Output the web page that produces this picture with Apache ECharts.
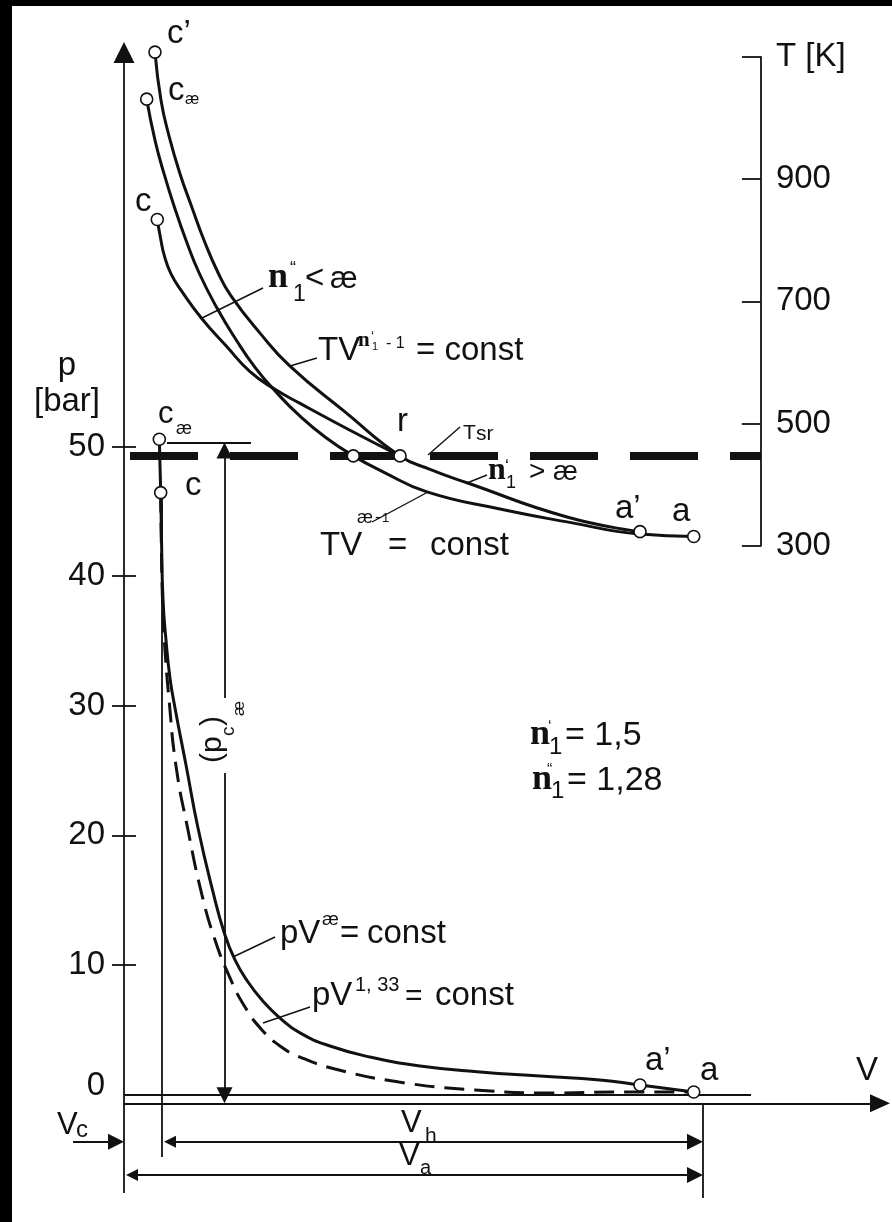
<!DOCTYPE html>
<html>
<head>
<meta charset="utf-8">
<title>p-V diagram</title>
<script src="https://cdn.jsdelivr.net/npm/echarts@6.0.0/dist/echarts.min.js"></script>
<style>
  html, body { margin: 0; padding: 0; background: #fff; }
  #main { width: 892px; height: 1222px; }
  .frame { position: absolute; background: #000; }
</style>
</head>
<body>
<div id="main"></div>
<div class="frame" style="left:0;top:0;width:892px;height:6px;"></div>
<div class="frame" style="left:0;top:0;width:12px;height:1222px;"></div>
<script>
// V in relative units (Va = 100), p in bar, T in K
var pTicks = [0, 10, 20, 30, 40, 50];
var tTicks = [300, 500, 700, 900, 1100];
var Vc = 6.56, Va = 100, Tsr = 447;
var vMax = 130.57, pMin = -0.68, pMax = 80.4;

// T-V curves
var tvN1 = [[5.35,1108],[6.39,1029],[7.77,971],[9.67,909],[11.69,855],[13.82,800],[16.29,746],[18.48,709],
            [23.49,648],[28.67,594],[38.17,519],[47.67,447],[52.85,425],[59.24,403],[76.51,347],[89.12,323]];
var tvK  = [[3.92,1031],[5.35,964],[6.91,909],[8.69,855],[10.71,800],[13.0,746],[16.06,689],[19.17,640],
            [22.63,592],[26.42,550],[30.4,512],[34.72,478],[39.6,447],[44.73,421],[52.33,388],[64.94,360],
            [76.51,339],[89.12,319],[98.4,315]];
var tvN2 = [[5.75,834],[6.3,804],[6.99,774],[8.12,745],[10.02,716],[13.42,672],[17.74,626],[21.76,585],
            [26.08,556],[30.4,533],[39.03,489],[47.67,447]];
var tvMarks = [[5.35,1108],[3.92,1031],[5.75,834],[39.6,447],[47.67,447],[89.12,323],[98.4,315]];

// p-V curves
var pvK = [[6.1,50.56],[6.34,46.44],[6.48,42.79],[6.74,38.16],[7.25,35.07],[7.94,32.14],[8.81,29.82],
           [10.71,25.42],[12.78,20.56],[15.37,15.63],[17.27,12.54],[19.17,10.38],[21.42,8.68],[23.83,7.29],
           [26.94,5.9],[30.4,4.75],[35.58,3.74],[42.49,2.89],[51.12,2.2],[61.49,1.74],[71.85,1.43],
           [82.21,1.12],[89.12,0.73],[98.4,0.19]];
var pv133 = [[6.34,46.44],[6.44,42.79],[6.65,38.16],[7.08,34.3],[7.77,30.52],[8.98,25.35],[11.05,20.41],
             [13.47,15.39],[15.72,11.92],[18.31,8.99],[20.9,6.75],[23.83,4.98],[26.94,3.74],[30.4,2.89],
             [36.44,1.97],[47.5,0.96],[60.62,0.35],[73.58,0.12],[86.7,0.19],[98.4,0.19]];
var pvMarks = [[6.1,50.56],[6.34,46.44],[89.12,0.73],[98.4,0.19]];

// dimension lines (V, p)
var dimPlain = [
  [[0, pMin], [0, -7.6]],
  [[Vc, 46.44], [Vc, -4.82]],
  [[Va, pMin], [Va, -7.98]],
  [[0, 0], [108.3, 0]],
  [[7.43, 50.3], [21.93, 50.3]]
];
var dimSingle = [
  [[17.36, 30.6], [17.36, 50.3]],
  [[17.36, 24.8], [17.36, pMin]],
  [[-8.8, -3.64], [0, -3.64]]
];
var dimDouble = [
  [[Vc, -3.64], [Va, -3.64]],
  [[0, -6.21], [Va, -6.21]]
];

var SANS = "'Liberation Sans', Arial, sans-serif";
var SERIF = "'Liberation Serif', 'Times New Roman', serif";
var INK = '#111';
var PX_V = 756 / vMax, PX_P = 1050.8 / (pMax - pMin);

function trim(a, b, px) {
  var dx = (b[0] - a[0]) * PX_V, dy = (b[1] - a[1]) * PX_P;
  var f = px / Math.sqrt(dx * dx + dy * dy);
  return [b[0] - (b[0] - a[0]) * f, b[1] - (b[1] - a[1]) * f];
}

function txt(x, base, s, size, opt) {
  opt = opt || {};
  var al = opt.align || 'left';
  return {
    type: 'text', x: x, y: base - 0.34 * size, z: 100, silent: true,
    style: {
      text: s, fill: INK, fontSize: size,
      fontFamily: opt.serif ? SERIF : SANS,
      fontWeight: opt.bold ? 'bold' : 'normal',
      align: al, verticalAlign: 'middle',
      textAlign: al, textVerticalAlign: 'middle'
    }
  };
}
// text rotated 90deg, reading upwards; x = em-middle column, y = start of the text
function rot(x, y, s, size) {
  return {
    type: 'text', x: x, y: y, rotation: Math.PI / 2, z: 100, silent: true,
    style: {
      text: s, fill: INK, fontSize: size, fontFamily: SANS,
      align: 'left', verticalAlign: 'middle', textAlign: 'left', textVerticalAlign: 'middle'
    }
  };
}
function lead(x1, y1, x2, y2) {
  return { type: 'line', z: 100, silent: true,
    shape: { x1: x1, y1: y1, x2: x2, y2: y2 },
    style: { stroke: INK, lineWidth: 1.4 } };
}

function curve(data, xi, yi, type) {
  return {
    type: 'line', xAxisIndex: xi, yAxisIndex: yi, data: data,
    symbol: 'none', showSymbol: false, smooth: 0.5,
    clip: false, silent: true, z: 3,
    lineStyle: { color: INK, width: 3, type: type }
  };
}
function marks(data, xi, yi) {
  return {
    type: 'scatter', xAxisIndex: xi, yAxisIndex: yi, data: data,
    symbol: 'circle', symbolSize: 12, clip: false, silent: true, z: 6,
    itemStyle: { color: '#fff', borderColor: INK, borderWidth: 1.6, opacity: 1 }
  };
}
function dims(list, symbol, nTrim) {
  return {
    type: 'lines', coordinateSystem: 'cartesian2d', xAxisIndex: 0, yAxisIndex: 0,
    clip: false, silent: true, z: 4, symbol: symbol, symbolSize: [12, 16],
    lineStyle: { color: INK, width: 1.8, opacity: 1, curveness: 0 },
    data: list.map(function (seg) {
      var a = seg[0], b = seg[1];
      if (nTrim >= 1) b = trim(seg[0], seg[1], 8);
      if (nTrim >= 2) a = trim(seg[1], seg[0], 8);
      return { coords: [a, b] };
    })
  };
}

var labelFont = { fontSize: 33, fontFamily: SANS, color: INK };

var labels = [
  txt(167, 45, 'c\u2019', 33),
  txt(168, 102, 'c', 33), txt(185, 105, '\u00e6', 16),
  txt(135, 213, 'c', 33),
  // n1'' < ae
  txt(268, 290, 'n', 36, { serif: 1, bold: 1 }), txt(290, 275, '\u201c', 18), txt(293, 302, '1', 23),
  txt(305, 290, '<', 33), txt(330, 290, '\u00e6', 31),
  lead(263, 288, 202, 318),
  // TV^(n1'-1) = const
  txt(318, 362, 'TV', 33), txt(358, 348, 'n', 21, { serif: 1, bold: 1 }), txt(371, 342, '\u2018', 14),
  txt(372, 351, '1', 11), txt(386, 349, '- 1', 16), txt(416, 362, '= const', 33),
  lead(317, 358, 290, 366),
  // T_sr and r
  txt(463, 440, 'T', 21), txt(476, 441, 'sr', 21),
  lead(460, 427, 428, 455),
  txt(397, 433, 'r', 33),
  // n1' > ae
  txt(488, 482, 'n', 32, { serif: 1, bold: 1 }), txt(505, 473, '\u2018', 18), txt(506, 489, '1', 18),
  txt(529, 482, '>', 28), txt(553, 482, '\u00e6', 28),
  lead(487, 475, 467, 483),
  txt(615, 520, 'a\u2019', 33), txt(672, 523, 'a', 33),
  // TV^(ae-1) = const
  txt(320, 557, 'TV', 33), txt(357, 524, '\u00e6', 18), txt(375, 523, '-', 17), txt(382, 523, '1', 13),
  txt(388, 557, '=', 33), txt(430, 557, 'const', 33),
  lead(372, 522, 428, 492),
  // axis captions
  txt(67, 377, 'p', 33, { align: 'center' }), txt(67, 413, '[bar]', 33, { align: 'center' }),
  txt(856, 1082, 'V', 33),
  // lower point labels
  txt(158, 425, 'c', 31), txt(176, 435, '\u00e6', 18),
  txt(185, 497, 'c', 33),
  txt(645, 1072, 'a\u2019', 33), txt(700, 1082, 'a', 33),
  // exponents
  txt(530, 747, 'n', 36, { serif: 1, bold: 1 }), txt(548, 733, '\u2018', 16), txt(549, 756, '1', 24),
  txt(565, 747, '= 1,5', 34),
  txt(532, 792, 'n', 36, { serif: 1, bold: 1 }), txt(547, 776, '\u201c', 16), txt(551, 800, '1', 24),
  txt(567, 792, '= 1,28', 34),
  // pV labels
  txt(280, 945, 'pV', 33), txt(322, 926, '\u00e6', 19), txt(340, 945, '=', 33), txt(367, 945, 'const', 33),
  lead(275, 937, 233, 957),
  txt(312, 1007, 'pV', 33), txt(355, 992, '1, 33', 20), txt(405, 1007, '=', 30), txt(435, 1007, 'const', 33),
  lead(310, 1007, 263, 1023),
  // volumes
  txt(57, 1136, 'V', 31), txt(76, 1139, 'c', 24),
  txt(401, 1134, 'V', 31), txt(425, 1143, 'h', 21),
  txt(399, 1167, 'V', 31), txt(420, 1175, 'a', 20),
  // (p_c)_ae along the pressure arrow
  rot(213, 763, '(p', 30), rot(229, 736, 'c', 19), rot(213, 726, ')', 30), rot(239, 716, '\u00e6', 17)
];

var chart = echarts.init(document.getElementById('main'), null, { renderer: 'canvas' });

var option = {
  backgroundColor: '#fff',
  animation: false,
  grid: [
    { left: 124, top: 52.5, width: 756, height: 1050.8, containLabel: false, outerBoundsMode: 'none' },
    { left: 124, top: 57, width: 636.9, height: 488.7, containLabel: false, outerBoundsMode: 'none' }
  ],
  xAxis: [
    {
      gridIndex: 0, type: 'value', min: 0, max: vMax,
      axisLine: { show: true, onZero: false, symbol: ['none', 'triangle'], symbolSize: [18, 20],
                  lineStyle: { color: INK, width: 1.8 } },
      axisTick: { show: false }, axisLabel: { show: false }, splitLine: { show: false }
    },
    { gridIndex: 1, type: 'value', min: 0, max: 110, show: false, splitLine: { show: false } }
  ],
  yAxis: [
    {
      gridIndex: 0, type: 'value', min: pMin, max: pMax, position: 'left',
      axisLine: { show: true, onZero: false, symbol: ['none', 'triangle'], symbolSize: [21, 21],
                  lineStyle: { color: INK, width: 1.8 } },
      axisTick: { show: true, length: 12, customValues: [10, 20, 30, 40, 50],
                  lineStyle: { color: INK, width: 1.8 } },
      axisLabel: {
        show: true, customValues: pTicks, margin: 19,
        fontSize: 33, fontFamily: SANS, color: INK,
        formatter: function (v) { return v === 0 ? '{z|0}' : '{n|' + v + '}'; },
        rich: {
          z: { fontSize: 33, fontFamily: SANS, color: INK, padding: [0, 0, 18, 0] },
          n: labelFont
        }
      },
      splitLine: { show: false }
    },
    {
      gridIndex: 0, type: 'value', min: pMin, max: pMax, position: 'left',
      axisLine: { show: false, onZero: false },
      axisTick: { show: true, inside: true, length: 12, customValues: [10, 20, 30, 40, 50],
                  lineStyle: { color: INK, width: 1.8 } },
      axisLabel: { show: false }, splitLine: { show: false }
    },
    {
      gridIndex: 1, type: 'value', min: 300, max: 1100, position: 'right',
      axisLine: { show: true, onZero: false, lineStyle: { color: INK, width: 1.8 } },
      axisTick: { show: true, inside: true, length: 19, customValues: tTicks,
                  lineStyle: { color: INK, width: 1.8 } },
      axisLabel: {
        show: true, customValues: tTicks, margin: 15,
        fontSize: 33, fontFamily: SANS, color: INK,
        formatter: function (v) { return v === 1100 ? 'T [K]' : String(v); }
      },
      splitLine: { show: false }
    }
  ],
  series: [
    {
      type: 'line', xAxisIndex: 1, yAxisIndex: 2, data: [[1.04, Tsr], [110, Tsr]],
      symbol: 'none', showSymbol: false, silent: true, z: 2,
      lineStyle: { color: INK, width: 8, type: [68, 32], cap: 'butt' }
    },
    curve(tvN1, 1, 2, 'solid'),
    curve(tvK, 1, 2, 'solid'),
    curve(tvN2, 1, 2, 'solid'),
    marks(tvMarks, 1, 2),
    curve(pvK, 0, 0, 'solid'),
    curve(pv133, 0, 0, [20, 10]),
    dims(dimPlain, 'none', 0),
    dims(dimSingle, ['none', 'triangle'], 1),
    dims(dimDouble, ['triangle', 'triangle'], 2),
    marks(pvMarks, 0, 0)
  ],
  graphic: { elements: labels }
};

chart.setOption(option);
</script>
</body>
</html>
